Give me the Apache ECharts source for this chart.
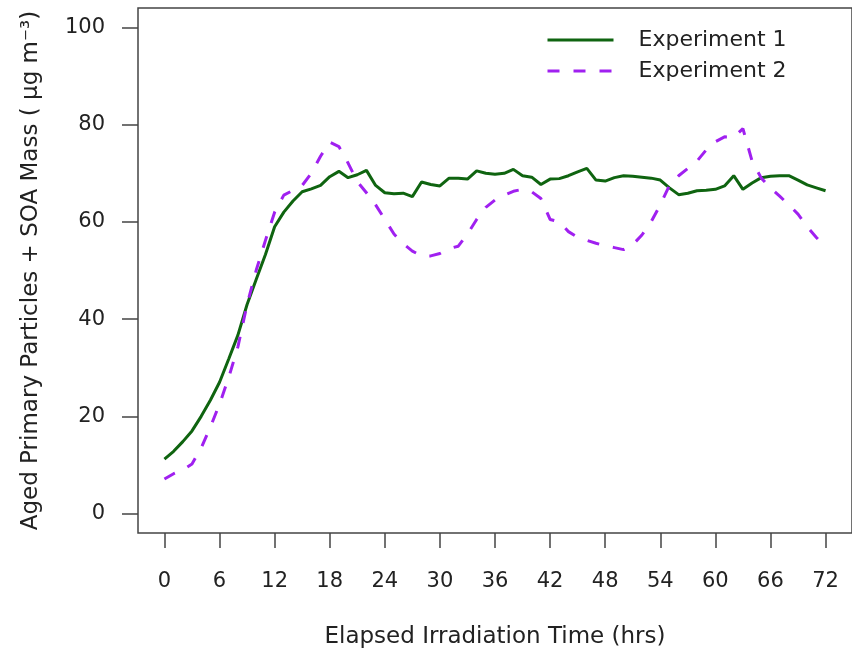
<!DOCTYPE html>
<html>
<head>
<meta charset="utf-8">
<script src="https://cdn.jsdelivr.net/npm/echarts@6/dist/echarts.min.js"></script>
<style>html,body{margin:0;padding:0;background:#fff}#c{width:852px;height:658px}</style>
</head>
<body>
<div id="c"></div>
<script>
// Elapsed irradiation time (hrs)
const hours = [0,1,2,3,4,5,6,7,8,9,10,11,12,13,14,15,16,17,18,19,20,21,22,23,24,25,26,27,28,29,30,31,32,33,34,35,36,37,38,39,40,41,42,43,44,45,46,47,48,49,50,51,52,53,54,55,56,57,58,59,60,61,62,63,64,65,66,67,68,69,70,71,72];
const experiment1 = [11.2,12.8,14.8,17.0,20.0,23.3,27.0,31.8,36.7,43.0,48.2,53.3,59.0,62.0,64.3,66.2,66.8,67.5,69.3,70.4,69.1,69.7,70.6,67.5,66.0,65.8,65.9,65.2,68.2,67.7,67.4,69.0,69.0,68.8,70.5,70.0,69.8,70.0,70.8,69.5,69.2,67.7,68.8,68.9,69.5,70.3,71.0,68.6,68.4,69.1,69.5,69.4,69.2,69.0,68.6,67.0,65.6,65.9,66.4,66.5,66.7,67.4,69.5,66.7,68.0,69.1,69.4,69.5,69.5,68.6,67.6,67.0,66.4];
const experiment2 = [7.1,8.2,9.0,10.2,13.5,17.8,22.5,28.0,34.3,43.0,50.1,56.2,62.0,65.5,66.5,67.5,70.0,73.5,76.4,75.5,72.1,68.3,66.0,63.5,60.5,57.5,55.5,54.0,53.0,53.0,53.5,54.5,55.0,57.5,60.5,63.0,64.5,65.5,66.3,66.7,66.2,64.8,60.5,60.0,58.0,56.8,56.2,55.6,55.1,54.7,54.3,55.3,57.3,60.0,63.5,67.5,69.5,71.0,72.5,74.8,76.5,77.5,77.4,79.2,72.5,69.0,67.0,65.3,63.5,61.6,59.0,56.8,54.8];
const xTicks = [0,6,12,18,24,30,36,42,48,54,60,66,72];
const yTicks = [0,20,40,60,80,100];
const seriesNames = ['Experiment 1','Experiment 2'];

const font = 'DejaVu Sans, Verdana, sans-serif';
const chart = echarts.init(document.getElementById('c'), null, {renderer:'canvas'});
chart.setOption({
  backgroundColor:'#ffffff',
  animation:false,
  grid:{left:138, top:8, right:-6, bottom:125, show:true, borderColor:'#444', borderWidth:1.5, backgroundColor:'transparent'},
  legend:{
    orient:'vertical', left:541, top:24, itemWidth:66, itemHeight:14, itemGap:9,
    itemStyle:{opacity:0},
    lineStyle:{width:3},
    textStyle:{fontFamily:font, fontSize:22, color:'#222', padding:[0,0,0,20]},
    data:seriesNames
  },
  xAxis:{
    type:'value', min:-2.88, max:74.88,
    name:'Elapsed Irradiation Time (hrs)', nameLocation:'middle', nameGap:93,
    nameTextStyle:{fontFamily:font, fontSize:23, color:'#222'},
    axisLine:{show:false, onZero:false},
    axisTick:{show:true, inside:false, length:15, customValues:xTicks, lineStyle:{color:'#444', width:1.5}},
    axisLabel:{customValues:xTicks, margin:38, fontFamily:font, fontSize:21, color:'#222'},
    splitLine:{show:false}
  },
  yAxis:{
    type:'value', min:-4, max:104,
    name:'Aged Primary Particles + SOA Mass ( μg m⁻³)', nameLocation:'middle', nameGap:95,
    nameTextStyle:{fontFamily:font, fontSize:23, color:'#222'},
    axisLine:{show:false, onZero:false},
    axisTick:{show:true, inside:false, length:16, customValues:yTicks, lineStyle:{color:'#444', width:1.5}},
    axisLabel:{customValues:yTicks, margin:33, fontFamily:font, fontSize:21, color:'#222'},
    splitLine:{show:false}
  },
  series:[
    {name:seriesNames[0], type:'line', showSymbol:false, symbol:'none',
     data:hours.map((h,i)=>[h, experiment1[i]]),
     lineStyle:{color:'#0f6410', width:3}, itemStyle:{color:'#0f6410'}},
    {name:seriesNames[1], type:'line', showSymbol:false, symbol:'none',
     data:hours.map((h,i)=>[h, experiment2[i]]),
     lineStyle:{color:'#a020f0', width:3, type:[12,14]}, itemStyle:{color:'#a020f0'}}
  ]
});
</script>
</body>
</html>
